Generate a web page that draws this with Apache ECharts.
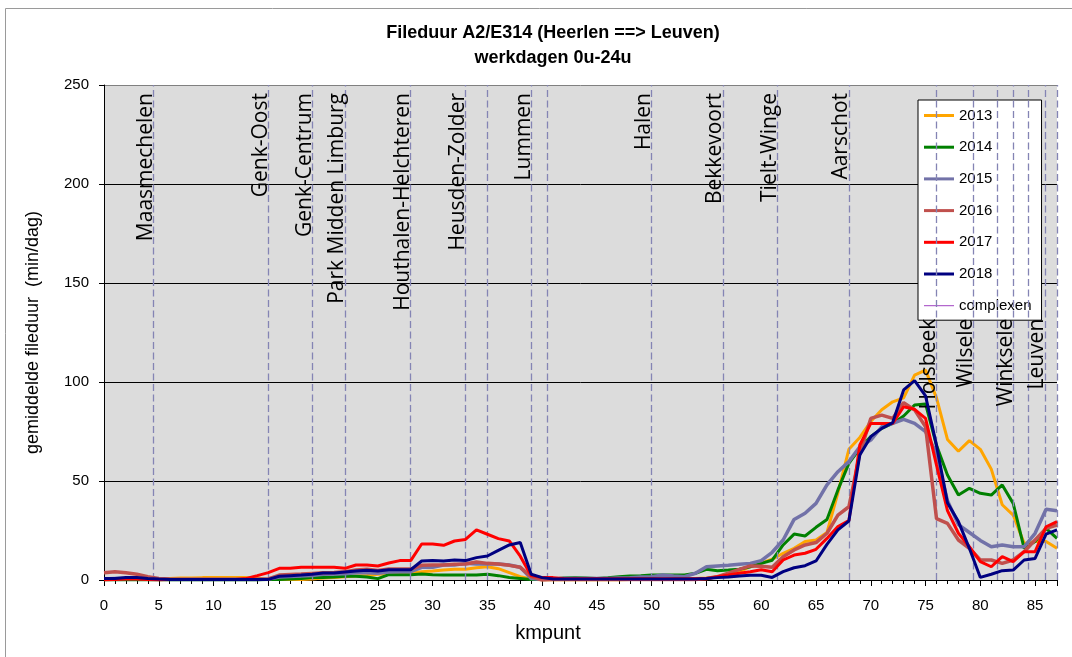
<!DOCTYPE html>
<html>
<head>
<meta charset="utf-8">
<script src="https://cdn.jsdelivr.net/npm/echarts@6/dist/echarts.min.js"></script>
<style>
html,body{margin:0;padding:0;background:#fff;}
#chart{width:1072px;height:657px;}
</style>
</head>
<body>
<div id="chart"></div>
<script>
// ---- data ----
const km = [0,1,2,3,4,5,6,7,8,9,10,11,12,13,14,15,16,17,18,19,20,21,22,23,24,25,26,27,28,29,
  30,31,32,33,34,35,36,37,38,39,40,41,42,43,44,45,46,47,48,49,50,51,52,53,54,55,56,57,58,59,
  60,61,62,63,64,65,66,67,68,69,70,71,72,73,74,75,76,77,78,79,80,81,82,83,84,85,86,87];

const years = ['2013','2014','2015','2016','2017','2018'];

const v2013 = [0.3,0.3,0.3,0.3,0.3,0.5,0.8,1.0,1.0,1.2,
  1.2,1.2,1.2,1.2,1.0,0.3,0.2,0.2,0.3,0.5,
  1.0,1.3,1.6,2.0,2.3,2.9,3.2,3.4,3.4,4.2,
  4.5,5.0,5.4,5.4,6.2,6.7,5.7,3.7,1.7,0.5,
  0,0,0,0,0,0,0,0,0.2,0.3,
  0.3,0.3,0.3,0.5,0.8,1.0,1.7,2.9,4.2,6.7,
  8.5,10.5,13.5,16,19.4,20.2,24,44,66,72,
  80,86,90,92,103.5,106,92,71,65,70.4,
  66,56,38,32.8,18.5,19.4,19.4,16];

const v2014 = [0,0,0,0,0,0,0,0,0,0,
  0,0,0,0,0,0.2,0.3,0.5,0.8,1.2,
  1.3,1.5,1.9,1.9,1.5,0.7,2.7,2.7,2.7,3.0,
  2.7,2.5,2.5,2.5,2.5,2.9,2.2,1.3,0.8,0.3,
  0.3,0.5,1.0,1.2,1.0,0.8,1.2,1.7,2.0,2.2,
  2.5,2.5,2.5,2.5,3.4,5.4,4.7,5.0,5.4,6.7,
  8.4,10,17.7,23.2,22.2,26.6,30.6,45.5,58.9,66.5,
  72.4,76.6,79.1,82.8,88.4,88.9,68,53,42.9,46.3,
  43.8,42.9,48,38.7,16,19.4,26.1,21];

const v2015 = [0.5,0.7,0.8,0.8,0.7,0.5,0.3,0.3,0.3,0.3,
  0.3,0.3,0.3,0.3,0.3,0.5,1.5,1.8,2.0,2.3,
  2.9,3.0,3.2,3.6,3.6,3.4,4.0,4.2,4.2,6.4,
  6.4,7.6,7.6,8.4,8.1,8.1,8.1,7.6,6.4,0.8,
  0.2,0.5,0.8,0.8,0.8,0.8,0.8,1.0,1.2,1.5,
  1.7,2.5,2.0,1.7,3.4,6.7,7.1,7.4,7.9,8.4,
  9.8,14,20.2,30.6,33.7,38.7,48,54.7,59.8,67.3,
  70.7,77.4,79.1,81.1,79.1,74.9,64,40,28,24,
  20,16.8,17.7,16.8,16.8,23.6,35.7,35];

const v2016 = [3.7,4.2,3.7,2.9,1.7,0.8,0.5,0.4,0.4,0.4,
  0.4,0.4,0.4,0.4,0.4,0.5,2.5,2.8,3.0,3.3,
  3.6,3.8,4.2,5.0,5.4,4.8,5.5,5.5,5.5,7.4,
  7.6,7.6,7.9,8.1,9.1,8.4,8.1,7.4,6.4,1.7,
  0,0.2,0.3,0.3,0.3,0.3,0.3,0.3,0.3,0.3,
  0.3,0.3,0.3,0.3,0.3,0.8,1.7,3.4,5.4,7.1,
  7.0,6.4,11.8,15.2,17.7,18.9,23.6,32.8,37,64,
  81.6,83.3,81.6,89.6,85.9,77.4,31,28.6,20.2,16,
  10.1,10.1,8.4,10.1,14.3,20.2,26.1,27.8];

const v2017 = [0,0.2,0.5,0.5,0.2,0,0.3,0.3,0.3,0.3,
  0.3,0.3,0.3,0.8,2.2,3.7,5.9,5.9,6.4,6.4,
  6.4,6.4,5.9,7.6,7.6,7.1,8.6,9.8,9.8,18.2,
  18.2,17.5,19.7,20.5,25.3,23.1,20.9,19.7,12,2.2,
  1.2,1.2,0.8,0.6,0.6,0.6,0.6,0.6,0.6,0.6,
  0.6,0.6,0.6,0.6,0.6,0.6,1.7,2.5,3.4,4.2,
  5.2,4.2,10.1,12.6,13.5,15.5,21,27,30,68.2,
  79.1,79.1,79.1,87.5,86.2,81.6,58,35,23.6,16.8,
  9.3,6.7,11.8,9.3,14.3,14.3,26.9,29.5];

const v2018 = [0.7,0.8,1.3,1.3,0.8,0.5,0.3,0.3,0.3,0.3,
  0.3,0.3,0.3,0.3,0.3,0.3,1.9,2.2,2.5,2.9,
  3.5,3.5,4.0,4.5,4.9,4.5,5.2,5.2,5.2,9.6,
  9.9,9.6,10.1,9.8,11.3,12.1,15,17.7,18.9,2.9,
  1.2,0.5,0.5,0.5,0.5,0.5,0.5,0.5,0.5,0.5,
  0.5,0.5,0.5,0.5,0.5,0.8,1.2,1.5,2.0,2.4,
  2.4,1.3,4.2,6.2,7.2,9.6,18,25.3,29.8,63.1,
  72.4,76.6,79.5,96,100.7,93,68,39,29.5,16,
  1.3,2.9,4.7,5,10.1,10.9,23.2,25.3];

// exits (dashed lines) with labels; upper labels and lower labels
const exitKm = [4.5,15,19,22,28,33,35,39,40.5,50,56.5,61.5,68,76,79.4,81.5,83,84.4,85.9,87];
const topLabelKm = [4.5,15,19,22,28,33,39,50,56.5,61.5,68];
const topLabels = ['Maasmechelen','Genk-Oost','Genk-Centrum','Park Midden Limburg','Houthalen-Helchteren',
  'Heusden-Zolder','Lummen','Halen','Bekkevoort','Tielt-Winge','Aarschot'];
const lowLabelKm = [76,79.4,83,85.9];
const lowLabels = ['Holsbeek','Wilsele','Winksele','Leuven'];
const lowLabelTop = 136; // value where lower labels end

// ---- chart ----
const colors = ['#FFA500','#008000','#7272A8','#C0504D','#FF0000','#000080'];
const widths = [3,3,3.5,3.5,3,3];
const vals = [v2013,v2014,v2015,v2016,v2017,v2018];
const pairs = v => km.map((k,i)=>[k, v[i]]);

const baseFont = '"Liberation Sans", sans-serif';
const labelFont = '"Open Sans", sans-serif';

const series = years.map((y,i)=>({
  name: y, type:'line', data: pairs(vals[i]), symbol:'none', smooth:false,
  lineStyle:{color:colors[i], width:widths[i]}, itemStyle:{color:colors[i]},
  z: 3 + i
}));
series.push({
  name:'complexen', type:'line', data:[], symbol:'none',
  lineStyle:{color:'#A040C0', width:1.2}, itemStyle:{color:'#A040C0'}
});

const exitLines = exitKm.map(k=>{
  const idx = topLabelKm.indexOf(k);
  const item = {xAxis:k};
  if (idx >= 0) item.label = {show:true, formatter: topLabels[idx]};
  else item.label = {show:false};
  return item;
});
const lowLines = lowLabelKm.map((k,i)=>[
  {coord:[k,0], lineStyle:{color:'rgba(0,0,0,0)', opacity:1}, label:{show:true, opacity:1, formatter: lowLabels[i]}},
  {coord:[k,lowLabelTop]}
]);

series.push({
  name:'afritten', type:'line', data:[], symbol:'none', silent:true,
  markLine:{
    silent:true, symbol:['none','none'], animation:false,
    lineStyle:{type:[7,3.5], color:'#8484B4', width:1.3},
    label:{position:'insideEndTop', color:'#000', opacity:1, fontSize:21, fontFamily:labelFont, distance:[8,-3]},
    emphasis:{disabled:true},
    data: exitLines.concat(lowLines)
  }
});

const legendData = years.map(y=>({name:y}));
legendData.push({name:'complexen', icon:'path://M0,0H30V1H0Z'});

const chart = echarts.init(document.getElementById('chart'));
chart.setOption({
  animation:false,
  backgroundColor:'#fff',
  grid:{left:104, top:85, right:15, bottom:77, show:true, backgroundColor:'#dcdcdc', borderWidth:0},
  legend:{
    data: legendData,
    orient:'vertical', left:918, top:100,
    icon:'rect', itemWidth:30, itemHeight:3, itemGap:16.7,
    padding:[8,10,7,6],
    backgroundColor:'#fff', borderColor:'#000', borderWidth:1,
    textStyle:{color:'#000', fontSize:15, lineHeight:14, fontFamily:baseFont},
    selectedMode:false
  },
  xAxis:{
    type:'value', min:0, max:87, interval:5,
    axisLine:{lineStyle:{color:'#000', width:1}},
    axisTick:{show:true, length:6, lineStyle:{color:'#000'}},
    minorTick:{show:true, splitNumber:5, length:4, lineStyle:{color:'#000'}},
    splitLine:{show:false},
    axisLabel:{color:'#000', fontSize:15, fontFamily:baseFont, margin:18, showMaxLabel:false}
  },
  yAxis:{
    type:'value', min:0, max:250, interval:50,
    axisLine:{show:true, lineStyle:{color:'#000', width:1}},
    axisTick:{show:true, length:5, lineStyle:{color:'#000'}},
    splitLine:{show:true, lineStyle:{color:['#000','#000','#000','#000','#000','#808080'], width:1}},
    axisLabel:{color:'#000', fontSize:15, fontFamily:baseFont, margin:15},
    name:'gemiddelde fileduur  (min/dag)', nameLocation:'middle', nameGap:62,
    nameTextStyle:{color:'#000', fontSize:18, fontFamily:baseFont}
  },
  graphic:[
    {type:'text', x:553, y:33, style:{text:'Fileduur A2/E314 (Heerlen ==> Leuven)', textAlign:'center', textVerticalAlign:'middle', fill:'#000', font:'bold 18px "Liberation Sans", sans-serif'}},
    {type:'text', x:553, y:58, style:{text:'werkdagen 0u-24u', textAlign:'center', textVerticalAlign:'middle', fill:'#000', font:'bold 18px "Liberation Sans", sans-serif'}},
    {type:'text', x:548, y:633, style:{text:'kmpunt', textAlign:'center', textVerticalAlign:'middle', fill:'#000', font:'20px "Liberation Sans", sans-serif'}},
    {type:'rect', shape:{x:5.5, y:8.5, width:1200, height:1000}, style:{fill:'none', stroke:'#9a9a9a', lineWidth:1}, silent:true, z:-1}
  ],
  series: series
});
</script>
</body>
</html>
